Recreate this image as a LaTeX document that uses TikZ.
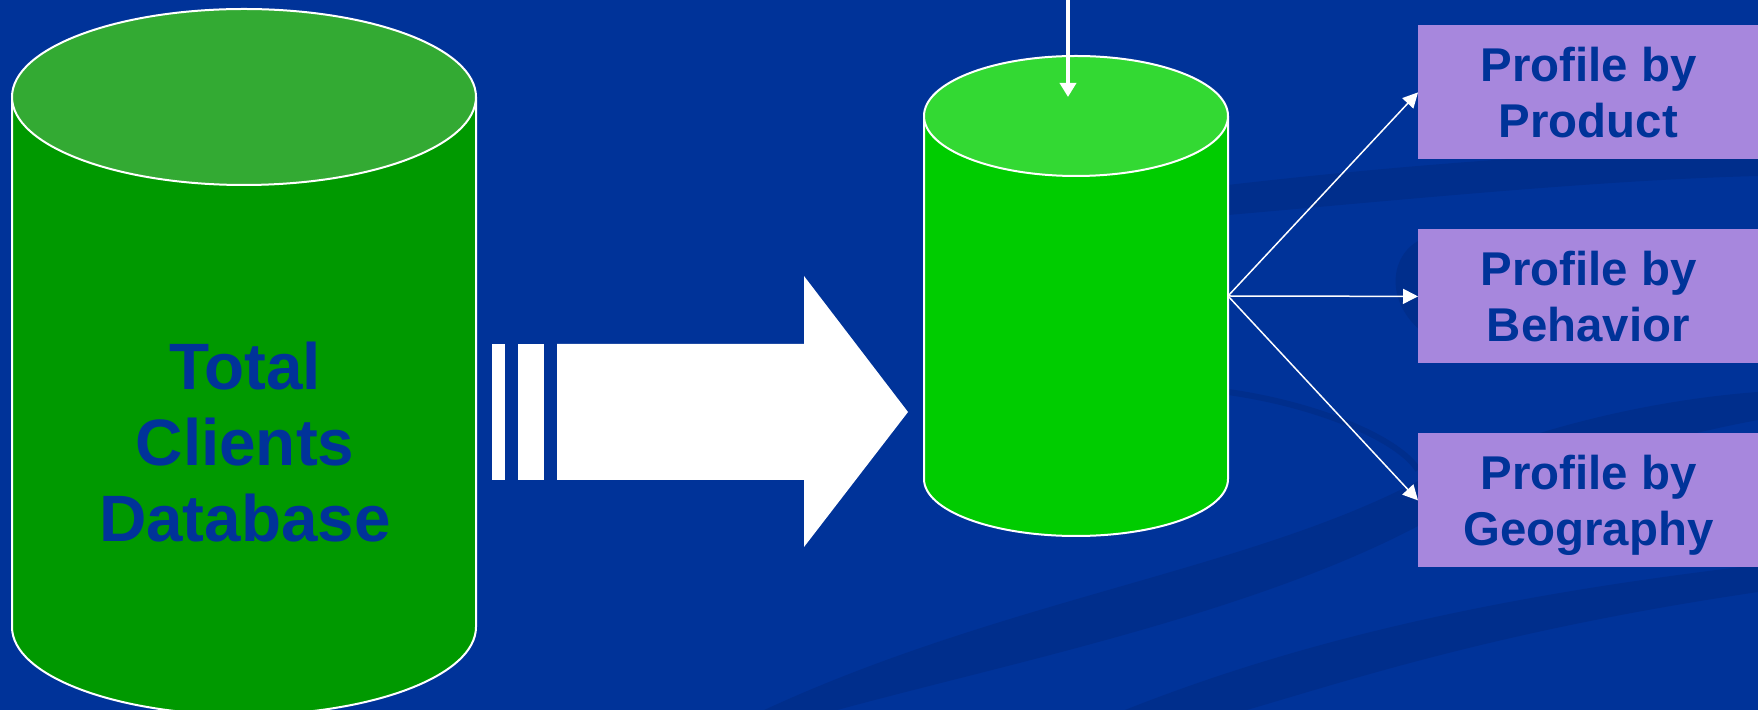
\documentclass[tikz,border=0pt]{standalone}
\usepackage{fontspec}
\setmainfont{Liberation Sans}
\usetikzlibrary{arrows.meta}
\definecolor{bg}{HTML}{003399}
\definecolor{swoosh}{HTML}{002E8C}
\definecolor{txt}{HTML}{003399}
\definecolor{dbbody}{HTML}{009900}
\definecolor{dbtop}{HTML}{33AA33}
\definecolor{cbody}{HTML}{00CC00}
\definecolor{ctop}{HTML}{33D933}
\definecolor{lav}{HTML}{A787DD}
\tikzset{
  outline/.style={draw=white, line width=1pt},
  profilebox/.style={fill=lav, draw=none, minimum width=170pt, minimum height=67pt,
    inner sep=0pt, anchor=north west, text=txt, align=center,
    font=\fontsize{23.7pt}{28.3pt}\selectfont\bfseries},
  bigtext/.style={text=txt, align=center, inner sep=0pt,
    font=\fontsize{32.8pt}{38pt}\selectfont\bfseries},
  conn/.style={draw=white, line width=0.75pt, -{Triangle[width=7.5pt,length=7.5pt]}},
  vconn/.style={draw=white, line width=1.75pt, -{Triangle[width=8pt,length=7pt]}},
  fatarrow/.style={fill=white, draw=none}
}
\begin{document}
\begin{tikzpicture}[x=0.5pt,y=-0.5pt]
\useasboundingbox (0,0) rectangle (1758,710);
\clip (0,0) rectangle (1758,710);
% background
\fill[bg] (0,0) rectangle (1758,710);
% faint swooshes
\fill[swoosh] (760,712) .. controls (1000,600) and (1250,570) .. (1420,480)
  .. controls (1520,430) and (1650,400) .. (1758,392) -- (1758,420)
  .. controls (1650,440) and (1520,480) .. (1420,525)
  .. controls (1250,615) and (1000,665) .. (830,712) -- cycle;
\fill[swoosh] (1120,712) .. controls (1300,640) and (1500,595) .. (1758,565)
  -- (1758,592) .. controls (1500,630) and (1350,680) .. (1240,712) -- cycle;
\fill[swoosh] (1228,185) .. controls (1400,165) and (1600,150) .. (1758,148)
  -- (1758,176) .. controls (1600,180) and (1400,200) .. (1228,215) -- cycle;
\fill[swoosh] (1420,240) .. controls (1390,255) and (1385,300) .. (1420,330) -- cycle;
\draw[swoosh, line width=3pt] (1228,392) .. controls (1320,405) and (1400,440) .. (1418,470);
% big database cylinder
\fill[dbbody] (12,97) -- (12,627) arc[start angle=180, end angle=360, x radius=116pt, y radius=44pt] -- (476,97) -- cycle;
\draw[outline] (12,97) -- (12,627) arc[start angle=180, end angle=360, x radius=116pt, y radius=44pt] -- (476,97);
\filldraw[fill=dbtop, outline] (244,97) ellipse [x radius=116pt, y radius=44pt];
\node[bigtext] (total) at (245,442) {Total\\Clients\\Database};
% fat arrow
\fill[fatarrow] (492,344) rectangle (505,480);
\fill[fatarrow] (518,344) rectangle (544,480);
\fill[fatarrow] (557,344) -- (804,344) -- (804,276) -- (908,412) -- (804,547) -- (804,480) -- (557,480) -- cycle;
% small cylinder
\fill[cbody] (924,116) -- (924,479) arc[start angle=180, end angle=360, x radius=76pt, y radius=28.5pt] -- (1228,116) -- cycle;
\draw[outline] (924,116) -- (924,479) arc[start angle=180, end angle=360, x radius=76pt, y radius=28.5pt] -- (1228,116);
\filldraw[fill=ctop, outline] (1076,116) ellipse [x radius=76pt, y radius=30pt];
% input arrow
\coordinate (src) at (1068,-4);
\coordinate (dst) at (1068,97);
\draw[vconn] (src) -- (dst);
% profile boxes
\node[profilebox] (p1) at (1418,25) {Profile by\\\smash{Product}};
\node[profilebox] (p2) at (1418,229) {Profile by\\\smash{Behavior}};
\node[profilebox] (p3) at (1418,433) {Profile by\\\smash{Geography}};
\coordinate (hub) at (1228,296);
\draw[conn] (hub) -- (p1.west);
\draw[conn] (hub) -- (p2.west);
\draw[conn] (hub) -- (p3.west);
\end{tikzpicture}
\end{document}
